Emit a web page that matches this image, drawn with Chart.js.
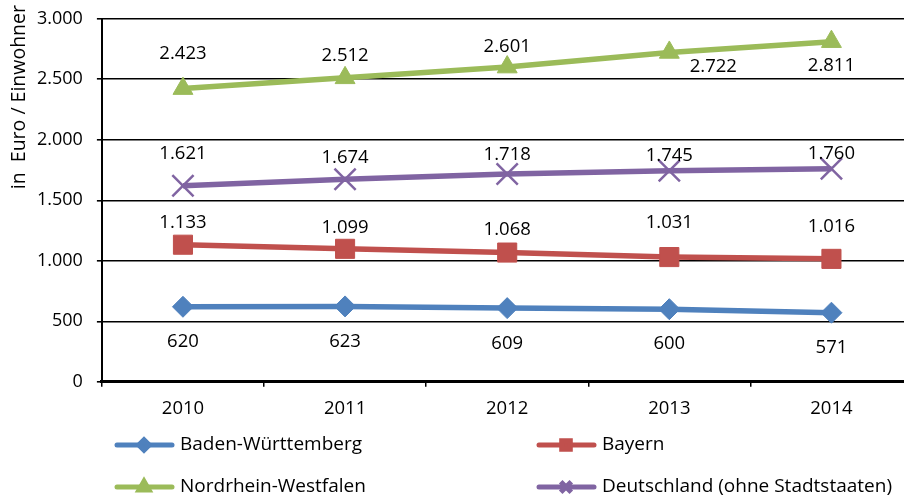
<!DOCTYPE html>
<html>
<head>
<meta charset="utf-8">
<script src="https://cdn.jsdelivr.net/npm/chart.js@4.4.0/dist/chart.umd.min.js"></script>
<style>
  body { margin: 0; background: #fff; overflow: hidden; }
  #chart { display: block; margin-top: -6px; }
</style>
</head>
<body>
<canvas id="chart" width="930" height="505"></canvas>
<script>
const years = ['2010', '2011', '2012', '2013', '2014'];
const badenWuerttemberg = [620, 623, 609, 600, 571];
const bayern = [1133, 1099, 1068, 1031, 1016];
const nordrheinWestfalen = [2423, 2512, 2601, 2722, 2811];
const deutschland = [1621, 1674, 1718, 1745, 1760];

const FONT = '"Open Sans", "DejaVu Sans", sans-serif';
const Y_TITLE = 'in  Euro / Einwohner';
const SHIFT = 6; // Canvas ist um 6px nach oben verschoben

function fmt(v) {
    return v.toLocaleString('de-DE');
}

// Wertebeschriftungen an den Punkten (Versatz je Punkt wie im Original)
const valueLabels = {
    id: 'valueLabels',
    afterDatasetsDraw(chart) {
        const ctx = chart.ctx;
        ctx.save();
        ctx.font = '18.5px ' + FONT;
        ctx.fillStyle = '#000';
        ctx.textAlign = 'center';
        ctx.textBaseline = 'middle';
        chart.data.datasets.forEach((ds, i) => {
            const meta = chart.getDatasetMeta(i);
            meta.data.forEach((pt, j) => {
                const off = ds.labelOffsets[j];
                ctx.fillText(fmt(ds.data[j]), pt.x + off[0], pt.y + off[1]);
            });
        });
        ctx.restore();
    }
};

// Achsentitel links, oben ausgerichtet
const yTitle = {
    id: 'yTitle',
    afterDraw(chart) {
        const ctx = chart.ctx;
        ctx.save();
        ctx.translate(19, 5 + SHIFT);
        ctx.rotate(-Math.PI / 2);
        ctx.font = '19.5px ' + FONT;
        ctx.fillStyle = '#000';
        ctx.textAlign = 'right';
        ctx.textBaseline = 'middle';
        ctx.fillText(Y_TITLE, 0, 0);
        ctx.restore();
    }
};

// Legende unten in zwei Spalten
const bottomLegend = {
    id: 'bottomLegend',
    afterDraw(chart) {
        const ctx = chart.ctx;
        const spots = [[117, 445], [539, 445], [117, 487], [539, 487]];
        ctx.save();
        chart.data.datasets.forEach((ds, i) => {
            const x = spots[i][0];
            const y = spots[i][1] + SHIFT;
            ctx.strokeStyle = ds.borderColor;
            ctx.fillStyle = ds.borderColor;
            ctx.lineWidth = 5;
            ctx.lineCap = 'round';
            ctx.beginPath();
            ctx.moveTo(x, y);
            ctx.lineTo(x + 55, y);
            ctx.stroke();
            ctx.lineCap = 'butt';
            Chart.helpers.drawPoint(ctx, {
                pointStyle: ds.pointStyle,
                radius: ds.pointRadius * (ds.pointStyle === 'rect' ? 0.45 : 0.5),
                borderWidth: ds.pointStyle === 'crossRot' ? 2 : 1
            }, x + 27, y);
            ctx.font = '19px ' + FONT;
            ctx.fillStyle = '#000';
            ctx.textAlign = 'left';
            ctx.textBaseline = 'middle';
            ctx.fillText(ds.label, x + 63, y);
        });
        ctx.restore();
    }
};

function line(label, data, color, style, radius, offsets) {
    return {
        label: label,
        data: data,
        borderColor: color,
        backgroundColor: color,
        borderWidth: 5.5,
        pointStyle: style,
        pointRadius: radius,
        pointBorderWidth: style === 'crossRot' ? 2.5 : 1,
        pointBorderColor: color,
        pointBackgroundColor: color,
        labelOffsets: offsets
    };
}

new Chart(document.getElementById('chart'), {
    type: 'line',
    data: {
        labels: years,
        datasets: [
            line('Baden-Württemberg', badenWuerttemberg, '#4F81BD', 'rectRot', 10.5,
                [[0, 35], [0, 35], [0, 36], [0, 35], [0, 35]]),
            line('Bayern', bayern, '#C0504D', 'rect', 13.5,
                [[0, -22], [0, -21], [0, -23], [0, -34], [0, -32]]),
            line('Nordrhein-Westfalen', nordrheinWestfalen, '#9BBB59', 'triangle', 11.5,
                [[0, -35], [0, -22], [0, -20], [44, 14], [0, 24]]),
            line('Deutschland (ohne Stadtstaaten)', deutschland, '#8064A2', 'crossRot', 15,
                [[0, -32], [0, -22], [0, -19], [0, -15], [0, -15]])
        ]
    },
    options: {
        responsive: false,
        animation: false,
        layout: { padding: { top: 2, right: 0, left: 23, bottom: 68 } },
        plugins: {
            legend: { display: false },
            tooltip: { enabled: false }
        },
        scales: {
            x: {
                offset: true,
                grid: { offset: true, drawOnChartArea: false, color: '#000', tickLength: 5, lineWidth: 1.5 },
                border: { color: '#000', width: 3 },
                ticks: { color: '#000', font: { family: FONT, size: 18.5 }, padding: 11 }
            },
            y: {
                min: 0,
                max: 3000,
                grid: { color: '#000', lineWidth: 1.6, tickLength: 5 },
                border: { color: '#000', width: 2 },
                ticks: {
                    stepSize: 500,
                    color: '#000',
                    font: { family: FONT, size: 18 },
                    padding: 14,
                    callback: v => fmt(v)
                }
            }
        }
    },
    plugins: [valueLabels, yTitle, bottomLegend]
});
</script>
</body>
</html>
